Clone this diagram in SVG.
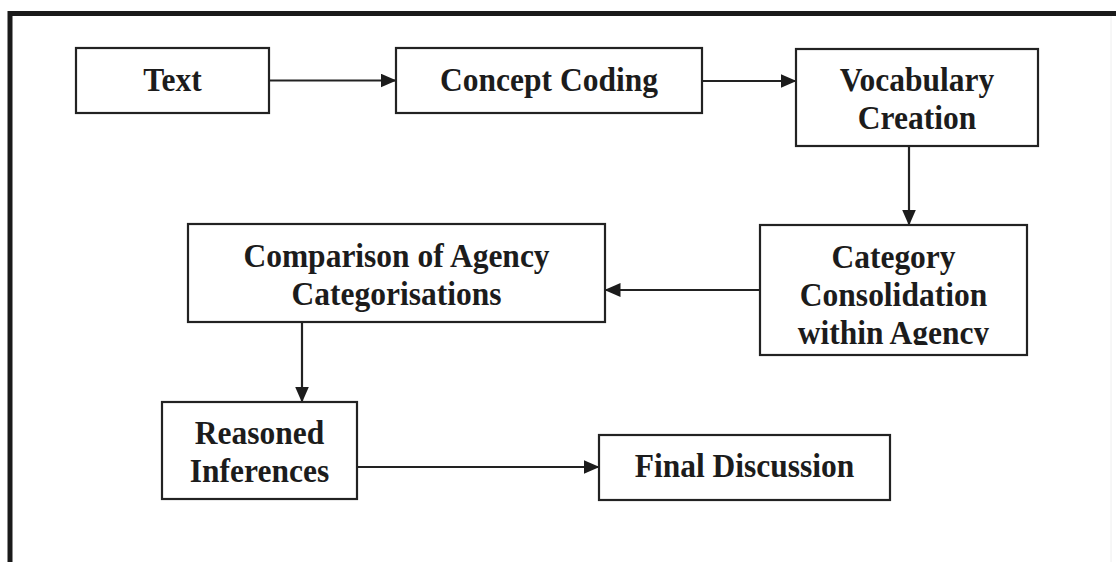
<svg xmlns="http://www.w3.org/2000/svg" width="1116" height="562" viewBox="0 0 1116 562">
  <defs>
    <style>
      .box { fill: #ffffff; stroke: #222222; stroke-width: 2.2; }
      .lbl { font-family: "Liberation Serif", "Times New Roman", serif; font-weight: bold; font-size: 31.5px; fill: #1c1c1c; text-anchor: middle; }
      .conn { stroke: #222222; stroke-width: 2.2; fill: none; marker-end: url(#arrow); }
    </style>
    <marker id="arrow" viewBox="0 0 16 14" refX="15.5" refY="7" markerWidth="16" markerHeight="14" markerUnits="userSpaceOnUse" orient="auto">
      <path d="M0,0 L16,7 L0,14 Z" fill="#1c1c1c"/>
    </marker>
    <clipPath id="clip-category">
      <rect x="760" y="225" width="267" height="120"/>
    </clipPath>
  </defs>

  <rect width="1116" height="562" fill="#ffffff"/>

  <!-- outer frame: top and left edges, faint right edge -->
  <g id="frame">
    <line x1="10" y1="13.5" x2="1116" y2="13.5" stroke="#1a1a1a" stroke-width="5"/>
    <line x1="10" y1="11" x2="10" y2="562" stroke="#1a1a1a" stroke-width="5"/>
    <line x1="1111" y1="16" x2="1111" y2="562" stroke="#eeeeee" stroke-width="1"/>
  </g>

  <g id="connectors">
    <line class="conn" x1="269" y1="80.5" x2="396" y2="80.5"/>
    <line class="conn" x1="702" y1="81" x2="796" y2="81"/>
    <line class="conn" x1="909" y1="146" x2="909" y2="225"/>
    <line class="conn" x1="760" y1="290" x2="605" y2="290"/>
    <line class="conn" x1="302" y1="323" x2="302" y2="402"/>
    <line class="conn" x1="357" y1="467" x2="599" y2="467"/>
  </g>

  <g id="node-text">
    <rect class="box" x="76" y="48" width="193" height="65"/>
    <text class="lbl" transform="translate(172.5,91) scale(1,1.1)">Text</text>
  </g>

  <g id="node-concept-coding">
    <rect class="box" x="396" y="48" width="306" height="65"/>
    <text class="lbl" transform="translate(549,91) scale(1,1.1)">Concept Coding</text>
  </g>

  <g id="node-vocabulary-creation">
    <rect class="box" x="796" y="49" width="242" height="97"/>
    <text class="lbl" transform="translate(917,91) scale(1,1.1)">Vocabulary<tspan x="0" dy="34.5">Creation</tspan></text>
  </g>

  <g id="node-category-consolidation">
    <rect class="box" x="760" y="225" width="267" height="130"/>
    <g clip-path="url(#clip-category)">
      <text class="lbl" transform="translate(893.5,268) scale(1,1.1)">Category<tspan x="0" dy="34.5">Consolidation</tspan><tspan x="0" dy="34.5">within Agency</tspan></text>
    </g>
  </g>

  <g id="node-comparison">
    <rect class="box" x="188" y="224" width="417" height="98"/>
    <text class="lbl" transform="translate(396.5,267) scale(1,1.1)">Comparison of Agency<tspan x="0" dy="34.5">Categorisations</tspan></text>
  </g>

  <g id="node-reasoned-inferences">
    <rect class="box" x="162" y="402" width="195" height="97"/>
    <text class="lbl" transform="translate(259.5,444) scale(1,1.1)">Reasoned<tspan x="0" dy="34.5">Inferences</tspan></text>
  </g>

  <g id="node-final-discussion">
    <rect class="box" x="599" y="435" width="291" height="65"/>
    <text class="lbl" transform="translate(744.5,477) scale(1,1.1)">Final Discussion</text>
  </g>
</svg>
